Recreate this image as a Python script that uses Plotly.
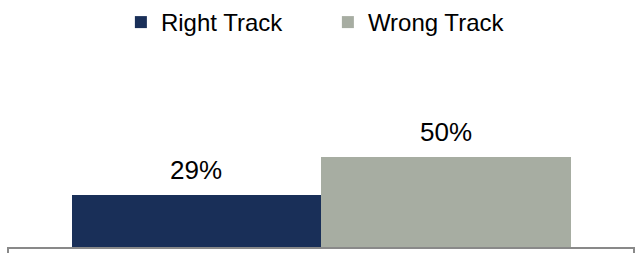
import plotly.graph_objects as go

categories = ["Right Track", "Wrong Track"]
values = [29, 50]
labels = ["29%", "50%"]
colors = ["#192F58", "#A7ADA2"]

FONT = "Liberation Sans, Arial, sans-serif"

fig = go.Figure()
for cat, val, col in zip(categories, values, colors):
    fig.add_trace(go.Bar(
        x=[cat], y=[val], name=cat,
        marker=dict(color=col, line=dict(width=0)),
        hoverinfo="skip",
    ))

for cat, val, lab in zip(categories, values, labels):
    fig.add_annotation(
        x=cat, y=val, text=lab, showarrow=False,
        xref="x", yref="y", yanchor="bottom", yshift=8,
        font=dict(family=FONT, size=26, color="#000000"),
    )

axis_gray = "#898989"
# end ticks of the category axis
for xp in (0, 1):
    fig.add_shape(type="line", xref="paper", yref="paper",
                  x0=xp, x1=xp, y0=0, y1=-0.04,
                  line=dict(color=axis_gray, width=2))

fig.update_layout(
    width=635, height=253,
    margin=dict(l=8, r=1, t=67, b=6),
    paper_bgcolor="white", plot_bgcolor="white",
    barmode="relative", bargap=0,
    showlegend=True,
    legend=dict(
        orientation="h", x=0.511, xanchor="center",
        yref="container", y=1.0, yanchor="top",
        font=dict(family=FONT, size=24, color="#000000"),
        entrywidth=162, entrywidthmode="pixels",
        itemclick=False, itemdoubleclick=False,
    ),
    xaxis=dict(
        type="category", range=[-0.7545, 1.7545],
        showticklabels=False, ticks="", showgrid=False, zeroline=False,
        showline=True, linecolor=axis_gray, linewidth=2,
        fixedrange=True,
    ),
    yaxis=dict(
        range=[0, 100], visible=False, showgrid=False, zeroline=False,
        fixedrange=True,
    ),
)

fig.write_html(
    "out.html",
    config={"displayModeBar": False},
    post_script="document.body.style.margin='0';document.body.style.overflow='hidden';",
)
